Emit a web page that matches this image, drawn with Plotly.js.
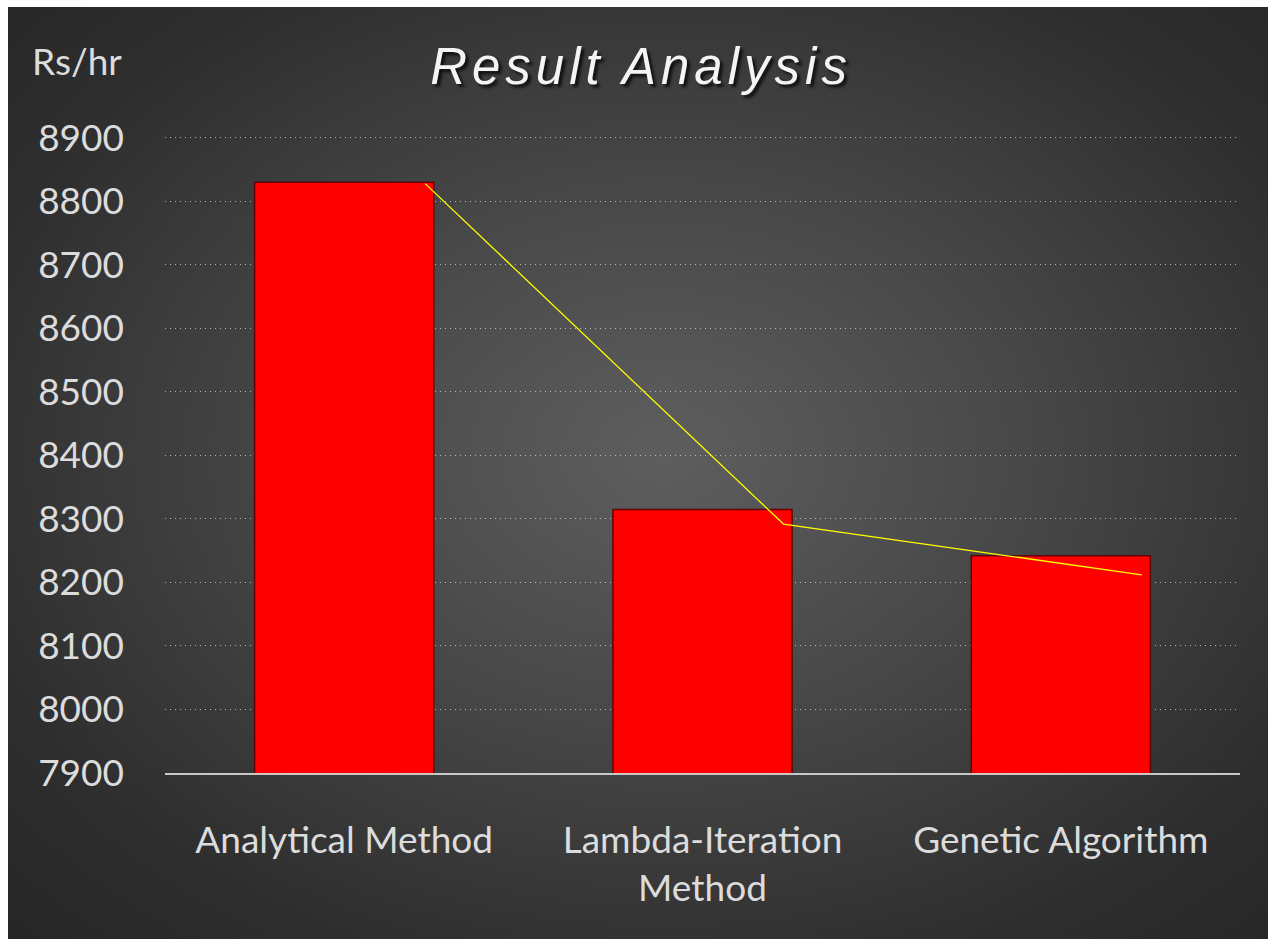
<!DOCTYPE html>
<html>
<head>
<meta charset="utf-8">
<script src="https://cdn.plot.ly/plotly-3.0.1.min.js"></script>
<style>
  html, body { margin: 0; padding: 0; background: #ffffff; width: 1268px; height: 939px; overflow: hidden; }
  #chart {
    position: absolute; left: 8px; top: 7px; width: 1260px; height: 932px;
    background: radial-gradient(ellipse farthest-corner at 52% 48%, #5e5e5e 0%, #474747 40%, #2e2e2e 78%, #262626 100%);
  }
  #chart .gtitle { letter-spacing: 5px; }
</style>
</head>
<body>
<div id="chart"></div>
<script>
// ---- data ----
const categories = ['Analytical Method', 'Lambda-Iteration<br>Method', 'Genetic Algorithm'];
const barValues = [8830, 8315, 8242];
const lineValues = [8828, 8292, 8212];
const yTickVals = [7900, 8000, 8100, 8200, 8300, 8400, 8500, 8600, 8700, 8800, 8900];
const titleText = 'Result Analysis';
const unitText = 'Rs/hr';

const labelFont = { family: 'Lato, "Open Sans", sans-serif', size: 37, color: '#dcdcdc' };

const traces = [
  {
    type: 'bar',
    x: categories,
    y: barValues,
    marker: { color: '#ff0000', line: { color: 'rgba(90,0,0,0.9)', width: 1.5 } },
    hoverinfo: 'x+y',
    showlegend: false
  },
  {
    type: 'scatter',
    mode: 'lines',
    x: categories,
    y: lineValues,
    xaxis: 'x2',
    line: { color: '#ffff00', width: 1.3 },
    showlegend: false
  }
];

const layout = {
  width: 1260,
  height: 932,
  paper_bgcolor: 'rgba(0,0,0,0)',
  plot_bgcolor: 'rgba(0,0,0,0)',
  margin: { l: 157, r: 28, t: 129, b: 166 },
  bargap: 0.5,
  title: {
    text: titleText,
    xref: 'container', yref: 'container',
    x: 0.5024, y: 0.937, xanchor: 'center', yanchor: 'middle',
    font: { family: '"Liberation Sans", Arial, sans-serif', size: 51, color: '#f4f4f4', style: 'italic', shadow: '3px 3px 3px #101010' }
  },
  xaxis: {
    type: 'category',
    categoryorder: 'array',
    categoryarray: categories,
    range: [-0.5, 2.5],
    showgrid: false,
    showline: true,
    linecolor: '#c8c8c8',
    linewidth: 1.5,
    ticks: '',
    ticklabelstandoff: 34,
    tickfont: labelFont,
    fixedrange: true
  },
  xaxis2: {
    type: 'category',
    categoryorder: 'array',
    categoryarray: categories,
    overlaying: 'x',
    range: [-0.726, 2.274],
    visible: false,
    fixedrange: true
  },
  yaxis: {
    range: [7900, 8903],
    tickvals: yTickVals,
    ticktext: yTickVals.map(String),
    showgrid: true,
    gridcolor: 'rgba(255,255,255,0.6)',
    griddash: '1px,4px',
    gridwidth: 1,
    zeroline: false,
    showline: false,
    ticks: '',
    ticklabelstandoff: 40,
    tickfont: labelFont,
    fixedrange: true
  },
  annotations: [
    {
      text: unitText,
      xref: 'paper', yref: 'paper',
      x: -0.038, y: 1.118,
      xanchor: 'right', yanchor: 'middle',
      showarrow: false,
      font: labelFont
    }
  ]
};

Plotly.newPlot('chart', traces, layout, { displayModeBar: false, staticPlot: true });
</script>
</body>
</html>
